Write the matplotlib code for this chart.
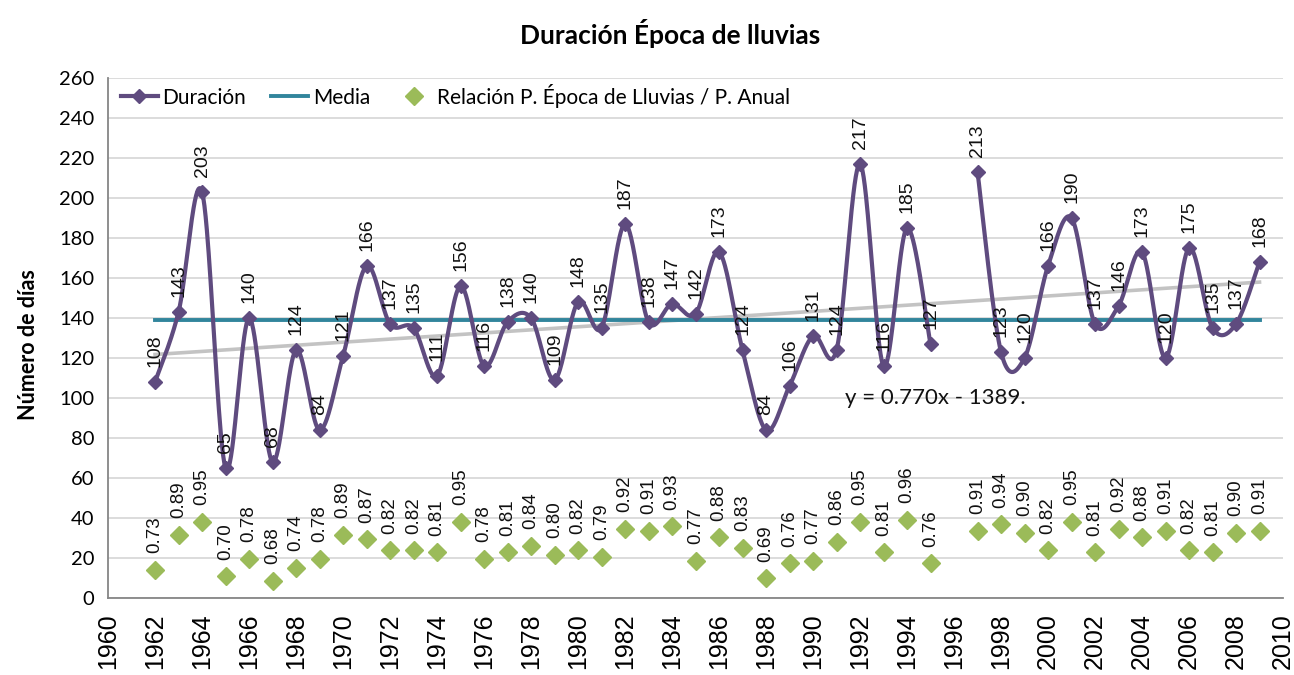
import matplotlib
matplotlib.use("Agg")
import matplotlib.pyplot as plt
from matplotlib.lines import Line2D
import numpy as np

# rainy-season duration per year (1996 has no record)
years = [1962, 1963, 1964, 1965, 1966, 1967, 1968, 1969, 1970, 1971,
         1972, 1973, 1974, 1975, 1976, 1977, 1978, 1979, 1980, 1981,
         1982, 1983, 1984, 1985, 1986, 1987, 1988, 1989, 1990, 1991,
         1992, 1993, 1994, 1995, 1997, 1998, 1999, 2000, 2001, 2002,
         2003, 2004, 2005, 2006, 2007, 2008, 2009]
duracion = [108, 143, 203, 65, 140, 68, 124, 84, 121, 166,
            137, 135, 111, 156, 116, 138, 140, 109, 148, 135,
            187, 138, 147, 142, 173, 124, 84, 106, 131, 124,
            217, 116, 185, 127, 213, 123, 120, 166, 190, 137,
            146, 173, 120, 175, 135, 137, 168]
relacion = [0.73, 0.89, 0.95, 0.70, 0.78, 0.68, 0.74, 0.78, 0.89, 0.87,
            0.82, 0.82, 0.81, 0.95, 0.78, 0.81, 0.84, 0.80, 0.82, 0.79,
            0.92, 0.91, 0.93, 0.77, 0.88, 0.83, 0.69, 0.76, 0.77, 0.86,
            0.95, 0.81, 0.96, 0.76, 0.91, 0.94, 0.90, 0.82, 0.95, 0.81,
            0.92, 0.88, 0.91, 0.82, 0.81, 0.90, 0.91]
media = 139
trend_slope = 0.770
trend_intercept = -1389

PURPLE = "#5F4B7F"
TEAL = "#31859C"
GREEN = "#9BBB59"
GRAY = "#BDBDBD"

CALIBRI = ["Lato", "DejaVu Sans"]
ARIAL = ["Liberation Sans", "DejaVu Sans"]


# smoothed line like the spreadsheet one: cubic bezier through every point
def smooth(x, y, n=40):
    pts = np.column_stack([x, y]).astype(float)
    segs = []
    for i in range(len(pts) - 1):
        p0 = pts[max(i - 1, 0)]
        p1 = pts[i]
        p2 = pts[i + 1]
        p3 = pts[min(i + 2, len(pts) - 1)]
        c1 = p1 + (p2 - p0) / 6
        c2 = p2 - (p3 - p1) / 6
        t = np.linspace(0, 1, n)[:, None]
        segs.append((1 - t) ** 3 * p1 + 3 * (1 - t) ** 2 * t * c1
                    + 3 * (1 - t) * t ** 2 * c2 + t ** 3 * p2)
    return np.vstack(segs)


years_a = np.array(years)
dur_a = np.array(duracion)
gap = np.where(np.diff(years_a) > 1)[0][0] + 1

fig = plt.figure(figsize=(12.94, 6.75), dpi=100)
ax = fig.add_axes([0.0835, 0.1141, 0.908, 0.7704])
ax2 = ax.twinx()

ax.set_xlim(1960, 2010)
ax.set_ylim(0, 260)
ax2.set_ylim(0.6, 3.0)
ax2.axis("off")

ax.set_yticks(np.arange(0, 261, 20))
ax.set_xticks(np.arange(1960, 2011, 2))
ax.grid(axis="y", color="#D9D9D9", lw=1.3)
ax.set_axisbelow(True)
for s in ["top", "right"]:
    ax.spines[s].set_visible(False)
for s in ["left", "bottom"]:
    ax.spines[s].set_color("#868686")
    ax.spines[s].set_linewidth(1.3)
ax.tick_params(axis="both", length=0)
ax.tick_params(axis="y", pad=10)
ax.tick_params(axis="x", pad=11)
for lab in ax.get_yticklabels():
    lab.set_family(CALIBRI)
    lab.set_fontsize(14.5)
for lab in ax.get_xticklabels():
    lab.set_family(ARIAL)
    lab.set_fontsize(18)
    lab.set_rotation(90)

# trend line
tx = np.array([years[0], years[-1]])
ax.plot(tx, trend_slope * tx + trend_intercept, color=GRAY, lw=2.6, alpha=0.9, zorder=2)

# mean line
ax.plot([years[0], years[-1]], [media, media], color=TEAL, lw=2.8, zorder=3)

# duration, drawn in two pieces around the missing year
for sl in [slice(0, gap), slice(gap, None)]:
    curve = smooth(years_a[sl], dur_a[sl])
    ax.plot(curve[:, 0], curve[:, 1], color=PURPLE, lw=3.0, zorder=4)
ax.plot(years, duracion, ls="none", marker="D", ms=7.5, color=PURPLE, zorder=5)

for x, v in zip(years, duracion):
    ax.annotate(str(v), (x, v), xytext=(0, 11), textcoords="offset points",
                rotation=90, ha="center", va="bottom", fontsize=14,
                family=ARIAL, color="#111111", zorder=6)

# ratio of rainy-season to annual precipitation
ax2.plot(years, relacion, ls="none", marker="D", ms=9.5, color=GREEN, zorder=5)
for x, r in zip(years, relacion):
    ax2.annotate(f"{r:.2f}", (x, r), xytext=(0, 12), textcoords="offset points",
                 rotation=90, ha="center", va="bottom", fontsize=13.5,
                 family=ARIAL, color="#111111")

ax.text(1991.35, 100, f"y = {trend_slope:.3f}x - {abs(trend_intercept)}.",
        fontsize=16, family=CALIBRI, va="center", ha="left", color="#111111")

handles = [
    Line2D([], [], color=PURPLE, lw=3.0, marker="D", ms=7.5),
    Line2D([], [], color=TEAL, lw=2.8),
    Line2D([], [], color=GREEN, ls="none", marker="D", ms=9.5),
]
ax.legend(handles, ["Duración", "Media", "Relación P. Época de Lluvias / P. Anual"],
          loc="center left", bbox_to_anchor=(0.0, 0.966), ncol=3, frameon=False,
          prop={"family": CALIBRI, "size": 15}, handlelength=1.8,
          handletextpad=0.2, columnspacing=1.2, borderaxespad=0.2)

fig.text(0.518, 0.951, "Duración Época de lluvias", ha="center", va="center",
         fontsize=19, fontweight="bold", family=CALIBRI)
fig.text(0.022, 0.49, "Número de días", rotation=90, ha="center", va="center",
         fontsize=15.5, fontweight="bold", family=CALIBRI)

fig.savefig("out.png", dpi=100)
